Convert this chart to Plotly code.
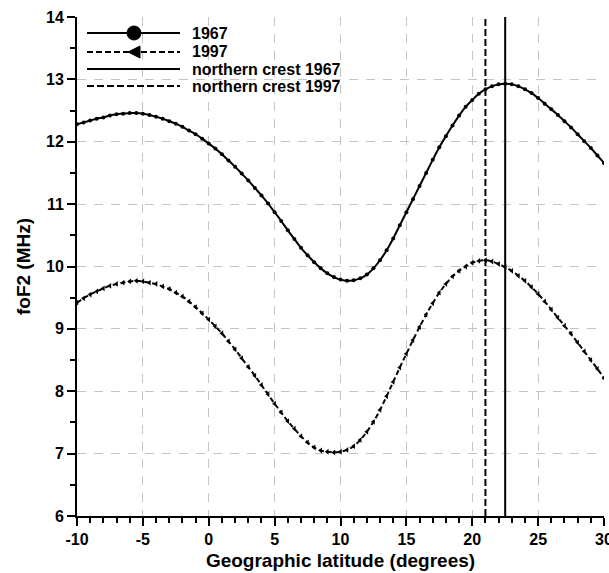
import plotly.graph_objects as go

latitude = [-10 + 0.5 * i for i in range(81)]

fof2_1967 = [
    12.28, 12.31, 12.34, 12.37, 12.39, 12.42, 12.44, 12.45, 12.46, 12.46,
    12.45, 12.43, 12.40, 12.37, 12.33, 12.29, 12.24, 12.18, 12.12, 12.05,
    11.97, 11.89, 11.80, 11.70, 11.60, 11.49, 11.38, 11.26, 11.14, 11.01,
    10.87, 10.73, 10.58, 10.44, 10.30, 10.18, 10.07, 9.97, 9.89, 9.83,
    9.79, 9.77, 9.78, 9.81, 9.87, 9.97, 10.10, 10.26, 10.45, 10.66,
    10.87, 11.08, 11.29, 11.50, 11.71, 11.91, 12.09, 12.26, 12.42, 12.56,
    12.67, 12.77, 12.84, 12.89, 12.92, 12.93, 12.92, 12.89, 12.84, 12.78,
    12.70, 12.61, 12.52, 12.43, 12.33, 12.23, 12.12, 12.01, 11.90, 11.78,
    11.66,
]

fof2_1997 = [
    9.42, 9.49, 9.55, 9.60, 9.65, 9.69, 9.72, 9.74, 9.76, 9.77,
    9.76, 9.74, 9.72, 9.68, 9.64, 9.58, 9.52, 9.44, 9.35, 9.25,
    9.15, 9.04, 8.93, 8.80, 8.67, 8.53, 8.39, 8.25, 8.10, 7.95,
    7.80, 7.66, 7.52, 7.40, 7.28, 7.18, 7.10, 7.05, 7.03, 7.02,
    7.03, 7.06, 7.12, 7.22, 7.35, 7.51, 7.70, 7.92, 8.15, 8.38,
    8.60, 8.82, 9.03, 9.23, 9.41, 9.58, 9.72, 9.84, 9.93, 10.00,
    10.06, 10.09, 10.10, 10.08, 10.04, 9.99, 9.93, 9.85, 9.77, 9.67,
    9.56, 9.44, 9.31, 9.18, 9.05, 8.92, 8.78, 8.64, 8.50, 8.36,
    8.21,
]

crest_1967 = 22.5
crest_1997 = 21.0
y_range = [6, 14]
x_ticks = [-10, -5, 0, 5, 10, 15, 20, 25, 30]
x_ticktext = ["-10", "-5", "0", "5", "10", "15", "20", "25", "30"]
y_ticks = [6, 7, 8, 9, 10, 11, 12, 13, 14]
legend_labels = ["1967", "1997", "northern crest 1967", "northern crest 1997"]

font_family = "Liberation Sans, Arial, sans-serif"

W, H = 609, 573
ML, MR, MT, MB = 77, 5, 17, 57
PW, PH = W - ML - MR, H - MT - MB


def px2paper_x(px):
    return (px - ML) / PW


def px2paper_y(py):
    return 1 - (py - MT) / PH


fig = go.Figure()

fig.add_trace(go.Scatter(
    x=latitude, y=fof2_1967, name=legend_labels[0], mode="lines+markers",
    line=dict(color="black", width=2, shape="spline"),
    marker=dict(symbol="circle", size=4, color="black"),
    showlegend=False,
))
fig.add_trace(go.Scatter(
    x=latitude, y=fof2_1997, name=legend_labels[1], mode="lines+markers",
    line=dict(color="black", width=2, dash="5px,3px", shape="spline"),
    marker=dict(symbol="triangle-left", size=5, color="black"),
    showlegend=False,
))
fig.add_trace(go.Scatter(
    x=[crest_1967, crest_1967], y=y_range, name=legend_labels[2],
    mode="lines", line=dict(color="black", width=2), showlegend=False,
))
fig.add_trace(go.Scatter(
    x=[crest_1997, crest_1997], y=y_range, name=legend_labels[3],
    mode="lines", line=dict(color="black", width=2, dash="7px,3px"),
    showlegend=False,
))

# manual legend (lines, symbols, labels)
leg_x0, leg_x1, leg_xm, leg_tx = 87, 180, 134, 190
leg_rows = [33, 52, 69, 86]
leg_dash = [None, "6px,3px", None, "7px,3px"]
shapes = []
annotations = []
for label, py, dash in zip(legend_labels, leg_rows, leg_dash):
    yp = px2paper_y(py)
    ln = dict(color="black", width=2)
    if dash:
        ln["dash"] = dash
    shapes.append(dict(type="line", xref="paper", yref="paper",
                       x0=px2paper_x(leg_x0), x1=px2paper_x(leg_x1), y0=yp, y1=yp,
                       line=ln))
    annotations.append(dict(text=label, xref="paper", yref="paper",
                            x=px2paper_x(leg_tx), y=yp, xanchor="left", yanchor="middle",
                            showarrow=False,
                            font=dict(family=font_family, size=16, color="black", weight="bold")))
shapes.append(dict(type="circle", xref="paper", yref="paper",
                   xsizemode="pixel", ysizemode="pixel",
                   xanchor=px2paper_x(leg_xm), yanchor=px2paper_y(leg_rows[0]),
                   x0=-7, x1=7, y0=-7, y1=7,
                   fillcolor="black", line=dict(color="black", width=1)))
shapes.append(dict(type="path", xref="paper", yref="paper",
                   xsizemode="pixel", ysizemode="pixel",
                   xanchor=px2paper_x(leg_xm), yanchor=px2paper_y(leg_rows[1]),
                   path="M -6,0 L 6,-6 L 6,6 Z",
                   fillcolor="black", line=dict(color="black", width=1)))

axis_common = dict(
    showline=True, linecolor="black", linewidth=2,
    ticks="outside", ticklen=8, tickwidth=2, tickcolor="black",
    showgrid=True, gridcolor="#c4c4c4", gridwidth=1, griddash="9px,8px",
    zeroline=False, mirror=False, automargin=False,
    ticklabeloverflow="allow",
    tickfont=dict(family=font_family, size=16, color="black", weight="bold"),
)

fig.update_xaxes(
    range=[-10, 30], tickvals=x_ticks, ticktext=x_ticktext,
    minor=dict(dtick=1, ticks="outside", ticklen=5, tickwidth=2, tickcolor="black", showgrid=False),
    title=dict(text="Geographic latitude (degrees)", standoff=6,
               font=dict(family=font_family, size=19, color="black", weight="bold")),
    **axis_common,
)
fig.update_yaxes(
    range=y_range, tickvals=y_ticks,
    minor=dict(dtick=0.5, ticks="outside", ticklen=5, tickwidth=2, tickcolor="black", showgrid=False),
    title=dict(text="foF2 (MHz)", standoff=10,
               font=dict(family=font_family, size=19, color="black", weight="bold")),
    **axis_common,
)

fig.update_layout(
    width=W, height=H,
    margin=dict(l=ML, r=MR, t=MT, b=MB),
    plot_bgcolor="white", paper_bgcolor="white",
    showlegend=False,
    shapes=shapes,
    annotations=annotations,
)

fig.write_html(
    "out.html",
    config={"displayModeBar": False},
    post_script="document.body.style.margin='0';document.body.style.overflow='hidden';",
)
